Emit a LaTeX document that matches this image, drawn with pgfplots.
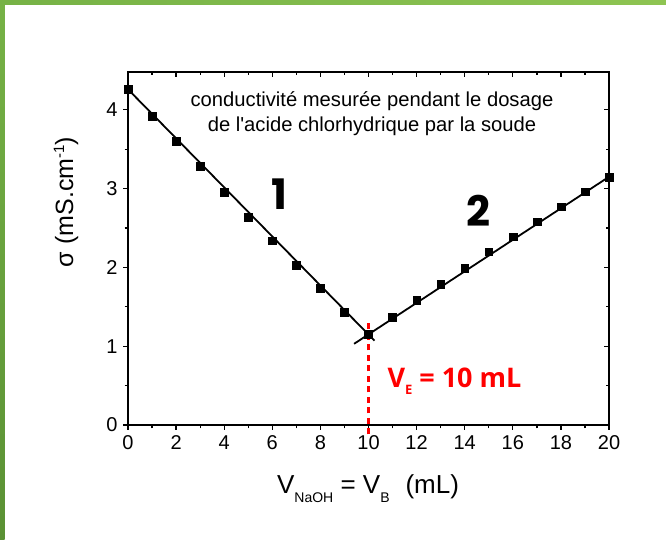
\documentclass[border=0pt]{standalone}
\usepackage{pgfplots}
\pgfplotsset{compat=1.18}
\usepackage{fontspec}
\setmainfont{Liberation Sans}[Ligatures=TeXOff]
\newfontfamily\boldfont{Open Sans}
\newfontfamily\heavyfont{Poppins}
\definecolor{gA}{RGB}{118,178,70}
\definecolor{gB}{RGB}{142,196,82}
\definecolor{gC}{RGB}{90,145,52}
\begin{document}
\begin{tikzpicture}
\fill[white] (0pt,0pt) rectangle (666pt,540pt);
\shade[left color=gA, right color=gB] (0pt,535.5pt) rectangle (666pt,540pt);
\shade[top color=gA, bottom color=gC] (0pt,0pt) rectangle (4.5pt,540pt);
\pgfplotsset{
  common/.style={at={(128pt,115pt)}, anchor=south west, scale only axis,
    width=481pt, height=353pt, xmin=0, xmax=20, ymin=0, ymax=4.48,
    xtick={0,2,...,20}, minor x tick num=1, ytick={0,1,2,3,4}, minor y tick num=1,
    major tick length=5pt, minor tick length=3.5pt,
    axis line style={line width=1.5pt}, tick style={line width=1.3pt, black},
    clip=false}
}
\begin{axis}[common, xtick pos=right, ytick pos=right, tick align=inside,
  xticklabels={}, yticklabels={}]
\end{axis}
\begin{axis}[common, xtick pos=left, ytick pos=left, tick align=outside,
  ticklabel style={font=\fontsize{20}{20}\selectfont},
  /pgf/number format/assume math mode=true,
  xticklabel style={yshift=-2pt}, yticklabel style={xshift=-2pt}]
\addplot[red, line width=3.2pt, dash pattern=on 6pt off 4.5pt] coordinates {(10,-0.12) (10,1.34)};
\addplot[black, line width=1.8pt] coordinates {(0,4.26) (10.25,1.07)};
\addplot[black, line width=1.8pt] coordinates {(9.4,1.03) (20,3.15)};
\addplot[only marks, mark=square*, mark size=3.9pt, black] coordinates {
(0,4.26) (1,3.92) (2,3.60) (3,3.28) (4,2.95) (5,2.64) (6,2.34) (7,2.03) (8,1.74) (9,1.43) (10,1.15)
(11,1.37) (12,1.58) (13,1.79) (14,1.99) (15,2.20) (16,2.39) (17,2.58) (18,2.77) (19,2.96) (20,3.14)};
\end{axis}
\node[align=center, font=\fontsize{20.2}{25}\selectfont] at (372pt,426pt) {conductivité mesurée pendant le dosage\\de l'acide chlorhydrique par la soude};
\node[font=\heavyfont\bfseries\fontsize{42}{42}\selectfont] at (279pt,346pt) {1};
\node[font=\heavyfont\bfseries\fontsize{42}{42}\selectfont] at (478pt,329pt) {2};
\node[anchor=base west, red, font=\boldfont\bfseries\fontsize{27}{27}\selectfont] at (384pt,152pt) {V\raisebox{-7pt}{\fontsize{13}{13}\selectfont E} = 10 mL};
\node[rotate=90, font=\fontsize{25}{25}\selectfont] at (66pt,338pt) {σ (mS.cm\raisebox{9pt}{\fontsize{15}{15}\selectfont -1})};
\node[anchor=base, font=\fontsize{26}{26}\selectfont] at (368pt,46pt) {V\raisebox{-9pt}{\fontsize{14}{14}\selectfont NaOH} = V\raisebox{-9pt}{\fontsize{14}{14}\selectfont B}\,\, (mL)};
\end{tikzpicture}
\end{document}
